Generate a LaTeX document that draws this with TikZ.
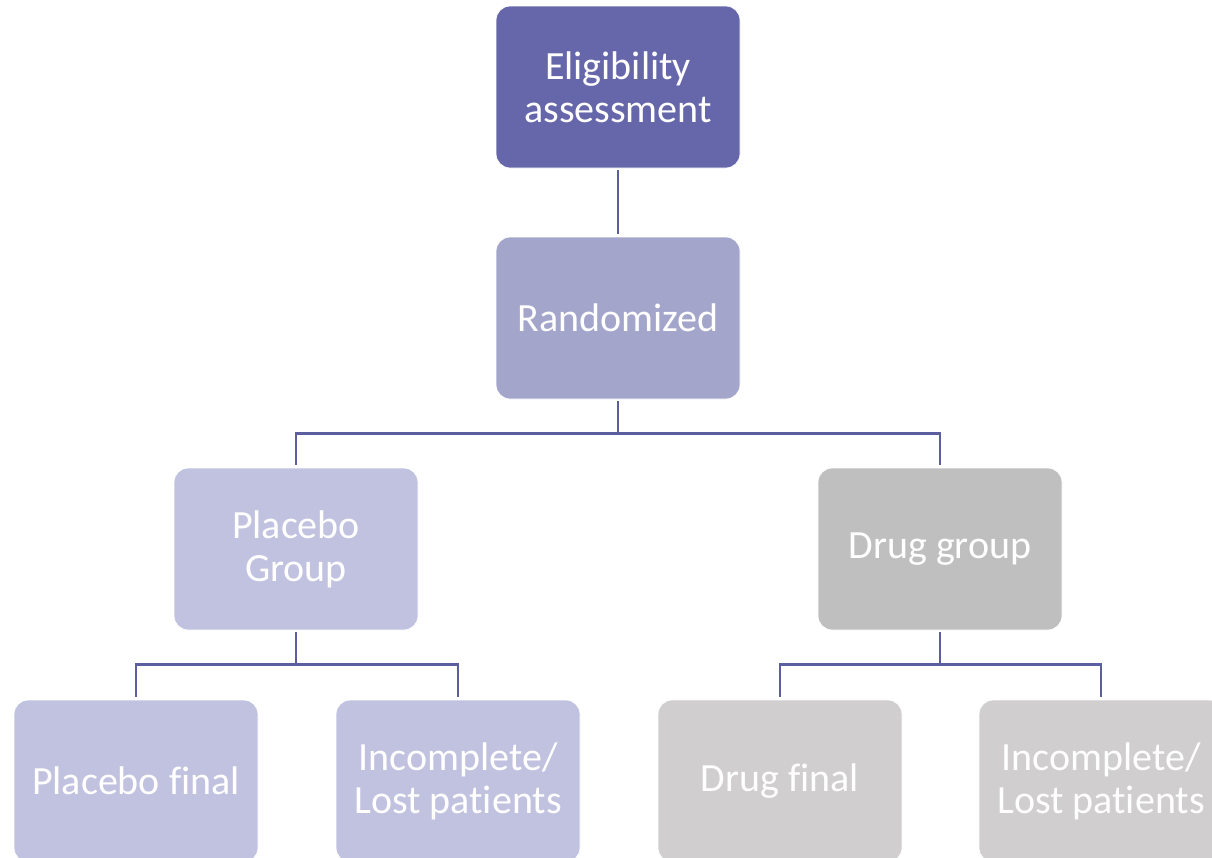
\documentclass[tikz,border=0pt]{standalone}
\usepackage{fontspec}
\setmainfont{Carlito}[Ligatures=CommonOff]
\definecolor{eligfill}{HTML}{6667AB}
\definecolor{randfill}{HTML}{A3A5CB}
\definecolor{placfill}{HTML}{C1C2E0}
\definecolor{druggrp}{HTML}{BFBFBF}
\definecolor{drugfill}{HTML}{D0CECE}
\definecolor{linkcol}{HTML}{5B5FA0}
\tikzset{
    box/.style={rectangle, rounded corners=14pt, draw=white, line width=0.8pt, text=white,
        minimum width=244pt, minimum height=162pt, align=center,
        font=\fontsize{40}{43}\selectfont},
    link/.style={draw=linkcol, line width=2.4pt, shorten <=2pt, shorten >=3pt}
}
\begin{document}
\begin{tikzpicture}[x=1pt, y=-1pt]
        \clip (0,0) rectangle (1212,857);
        %nodes
        \node[box, fill=eligfill] (elig) at (618, 87) {Eligibility\\assessment};
        \node[box, fill=randfill] (rand) at (618, 318) {Randomized};
        \node[box, fill=placfill] (plac) at (296, 549) {Placebo\\Group};
        \node[box, fill=druggrp] (drug) at (940, 549) {Drug group};
        \node[box, fill=placfill] (pfin) at (136, 781) {Placebo final};
        \node[box, fill=placfill] (pinc) at (458, 781) {Incomplete/\\Lost patients};
        \node[box, fill=drugfill] (dfin) at (780, 781) {Drug final};
        \node[box, fill=drugfill] (dinc) at (1101, 781) {Incomplete/\\Lost patients};

        %edges
        \draw[link] (elig.south) -- (rand.north);
        \draw[link] (rand.south) -- ++(0, 34) -| (plac.north);
        \draw[link] (rand.south) -- ++(0, 34) -| (drug.north);
        \draw[link] (plac.south) -- ++(0, 34) -| (pfin.north);
        \draw[link] (plac.south) -- ++(0, 34) -| (pinc.north);
        \draw[link] (drug.south) -- ++(0, 34) -| (dfin.north);
        \draw[link] (drug.south) -- ++(0, 34) -| (dinc.north);
    \end{tikzpicture}
\end{document}
